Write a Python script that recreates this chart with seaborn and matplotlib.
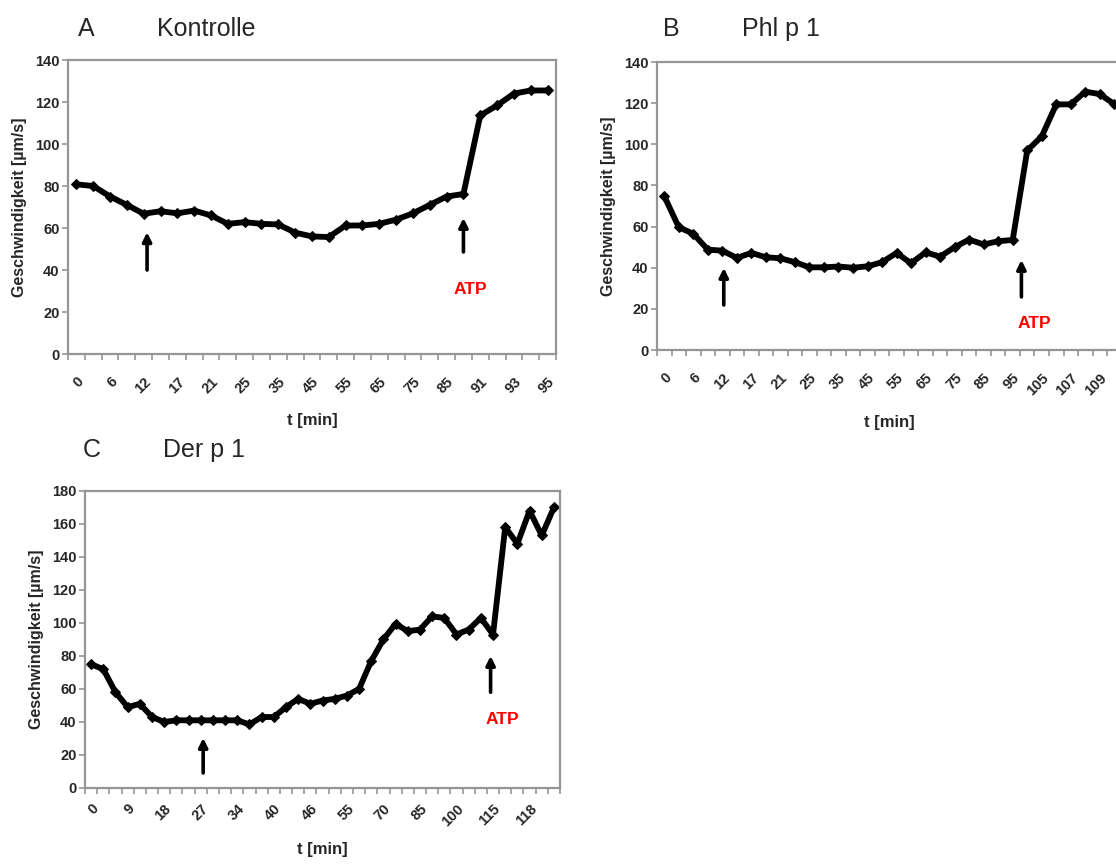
import numpy as np
import pandas as pd
import matplotlib.pyplot as plt
import seaborn as sns

sns.set_theme(style="white")
plt.rcParams['font.family'] = ['Liberation Sans', 'DejaVu Sans']

# --- Daten ---
# A: Kontrolle, 29 Messpunkte, jede zweite Kategorie beschriftet
a_values = [80.8, 80, 75, 71, 66.8, 68, 67, 68.3, 66, 62, 62.8, 62, 61.7, 57.8, 56,
            55.7, 61.2, 61.2, 62, 64, 67, 71, 75, 76.2, 113.6, 118.4, 124, 125.5, 125.5]
a_labels = ['0', '6', '12', '17', '21', '25', '35', '45', '55', '65', '75', '85', '91', '93', '95']

# B: Phl p 1, 32 Messpunkte (rechts abgeschnitten)
b_values = [74.8, 59.7, 56.5, 48.8, 48.3, 44.8, 47.2, 45.1, 44.6, 42.7, 40.2, 40.2, 40.6,
            40, 40.7, 42.7, 47.2, 42.2, 47.5, 45.4, 50, 53.7, 51.3, 52.9, 53.5, 97, 103.8,
            119.4, 119.4, 125.6, 124.4, 119.5]
b_labels = ['0', '6', '12', '17', '21', '25', '35', '45', '55', '65', '75', '85', '95',
            '105', '107', '109']

# C: Der p 1, 39 Messpunkte, jede dritte Kategorie beschriftet
c_values = [75, 72, 58, 49, 51, 43, 40, 41, 41, 41, 41, 41, 41, 38.5, 43, 43, 49, 54, 51,
            53, 54, 56, 60, 77, 90, 99.5, 95, 96, 104, 103, 93, 96, 103, 93, 158, 148, 168,
            153, 170]
c_labels = ['0', '9', '18', '27', '34', '40', '46', '55', '70', '85', '100', '115', '118']

GRAY = '#959595'


def draw_panel(ax, values, labels, step, ymax, arrows, atp_pos, pad=15, labelpad=12):
    n = len(values)
    df = pd.DataFrame({'idx': np.arange(n), 'v': values})
    sns.lineplot(data=df, x='idx', y='v', ax=ax, color='black', lw=4.2,
                 marker='D', markersize=5.5, markeredgecolor='black',
                 solid_joinstyle='round')
    ax.set_xlim(-0.5, n - 0.5)
    ax.set_ylim(0, ymax)
    ax.set_yticks(np.arange(0, ymax + 1, 20))
    ax.set_xticks(np.arange(len(labels)) * step)
    ax.set_xticklabels(labels, rotation=45, ha='right', va='top',
                       rotation_mode='anchor', fontweight='bold', fontsize=10.5)
    ax.set_xticks(np.arange(n + 1) - 0.5, minor=True)
    ax.tick_params(axis='x', which='major', length=0, pad=pad)
    ax.tick_params(axis='x', which='minor', length=4, width=1.2, color=GRAY,
                   direction='out', bottom=True)
    ax.tick_params(axis='y', length=4, width=1.2, color=GRAY, direction='out',
                   left=True, pad=2)
    for lab in ax.get_yticklabels():
        lab.set_fontweight('bold')
        lab.set_fontsize(10.5)
    for sp in ax.spines.values():
        sp.set_color(GRAY)
        sp.set_linewidth(1.6)
    ax.set_xlabel('t [min]', fontweight='bold', fontsize=12, labelpad=labelpad)
    ax.set_ylabel('Geschwindigkeit [µm/s]', fontweight='bold', fontsize=11.5, labelpad=6)
    for x, tail, tip in arrows:
        ax.annotate('', xy=(x, tip), xytext=(x, tail),
                    arrowprops=dict(arrowstyle='-|>', color='black', lw=2.6,
                                    mutation_scale=13, shrinkA=0, shrinkB=0))
    ax.text(atp_pos[0], atp_pos[1], 'ATP', color='red', fontweight='bold',
            fontsize=12.5, ha='center', va='center')


fig = plt.figure(figsize=(11.16, 8.66), dpi=100)

ax_a = fig.add_axes([0.0609, 0.5912, 0.4373, 0.3395])
draw_panel(ax_a, a_values, a_labels, 2, 140,
           [(4.2, 40, 58), (23, 48.6, 64.8)], (23.4, 30.5))

ax_b = fig.add_axes([0.5887, 0.5958, 0.4163, 0.3326])
draw_panel(ax_b, b_values, b_labels, 2, 140,
           [(4.1, 21.9, 39.9), (24.6, 25.8, 43.8)], (25.5, 13.1))

ax_c = fig.add_axes([0.0762, 0.0901, 0.4256, 0.343])
draw_panel(ax_c, c_values, c_labels, 3, 180,
           [(9.2, 9.1, 30.3), (32.8, 58, 80)], (33.8, 41.2), pad=10, labelpad=9)

fig.text(0.070, 0.967, 'A', fontsize=18, va='center')
fig.text(0.1407, 0.967, 'Kontrolle', fontsize=18, va='center')
fig.text(0.594, 0.967, 'B', fontsize=18, va='center')
fig.text(0.6646, 0.967, 'Phl p 1', fontsize=18, va='center')
fig.text(0.074, 0.4800, 'C', fontsize=18, va='center')
fig.text(0.146, 0.4800, 'Der p 1', fontsize=18, va='center')

fig.savefig('out.png', dpi=100)
